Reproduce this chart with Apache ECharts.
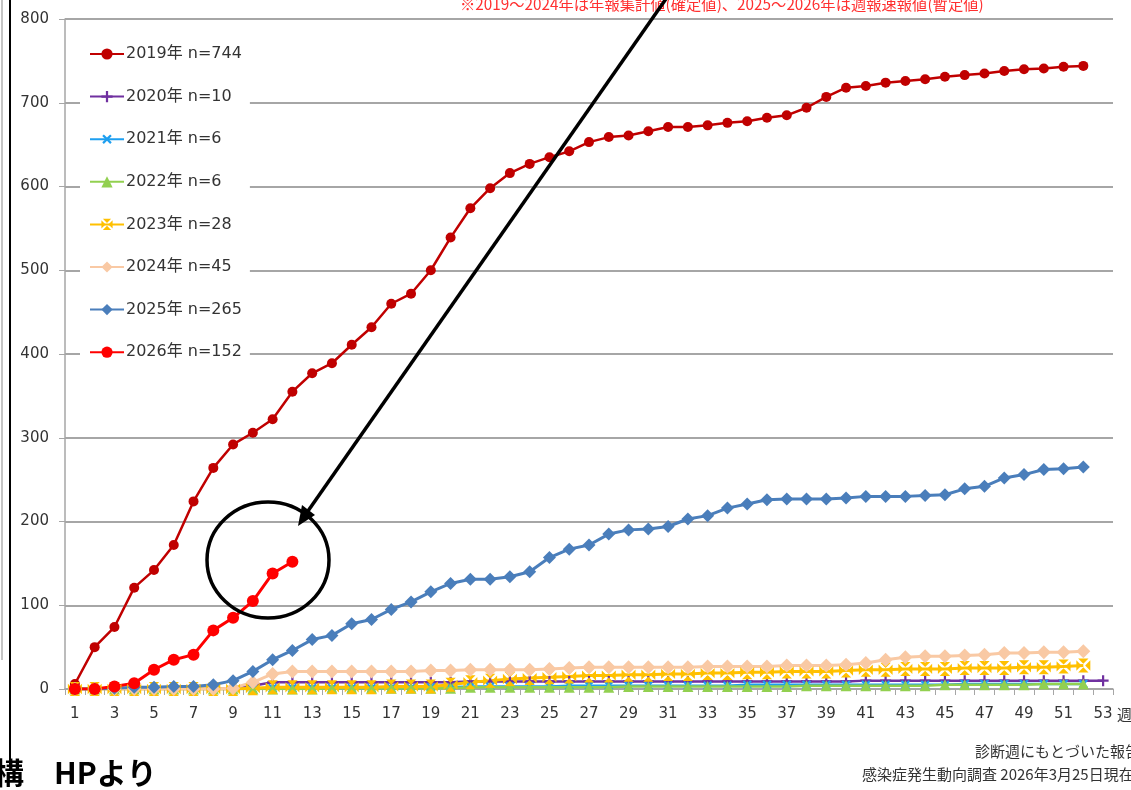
<!DOCTYPE html>
<html><head><meta charset="utf-8">
<script src="https://cdn.jsdelivr.net/npm/echarts@6/dist/echarts.min.js"></script>
<style>html,body{margin:0;padding:0;background:#fff;overflow:hidden}#c{width:1131px;height:790px}</style>
</head><body><div id="c"></div>
<script>
const weeks = Array.from({length:53},(_,i)=>String(i+1));
const names = ['2019年 n=744','2020年 n=10','2021年 n=6','2022年 n=6','2023年 n=28','2024年 n=45','2025年 n=265','2026年 n=152'];
const y2019 = [6,50,74,121,142,172,224,264,292,306,322,355,377,389,411,432,460,472,500,539,574,598,616,627,635,642,653,659,661,666,671,671,673,676,678,682,685,694,707,718,720,724,726,728,731,733,735,738,740,741,743,744];
const y2020 = [0,0,0,0,0,0,0,0,0,4,8,8,8,8,8,8,8,8,8,8,9,9,9,9,9,9,9,9,9,9,9,9,9,9,9,9,9,9,9,9,10,10,10,10,10,10,10,10,10,10,10,10,10];
const y2021 = [0,0,0,0,0,0,0,0,0,0,1,1,1,1,1,1,1,1,2,2,3,3,3,3,3,4,4,4,4,4,4,4,4,4,5,5,5,5,5,5,5,5,5,5,5,6,6,6,6,6,6,6];
const y2022 = [0,0,0,0,0,0,0,0,0,0,0,0,0,1,1,1,1,1,1,1,2,2,2,2,2,2,2,2,3,3,3,3,3,3,3,3,3,4,4,4,4,4,4,4,5,5,5,5,5,6,6,6];
const y2023 = [0,0,0,0,0,0,0,0,0,1,2,2,2,2,2,2,3,3,3,5,8,10,12,13,14,15,16,16,17,17,18,18,19,19,20,20,21,21,21,22,23,23,24,24,24,25,25,25,26,26,27,28];
const y2024 = [0,0,0,0,0,0,0,0,1,8,18,21,21,21,21,21,21,21,22,22,23,23,23,23,24,25,26,26,26,26,26,26,27,27,27,27,28,28,28,29,31,35,38,39,39,40,41,43,43,44,44,45];
const y2025 = [0,0,1,2,2,3,3,5,10,21,35,46,59,64,78,83,95,104,116,126,131,131,134,140,157,167,172,185,190,191,194,203,207,216,221,226,227,227,227,228,230,230,230,231,232,239,242,252,256,262,263,265];
const y2026 = [0,0,3,7,23,35,41,70,85,105,138,152];
const yTicks = [0,100,200,300,400,500,600,700,800];

const FONT = "'DejaVu Sans','Noto Sans CJK JP',sans-serif";
const JP = "'Noto Sans CJK JP','DejaVu Sans',sans-serif";
const PLUS = 'path://M4,0H6V4H10V6H6V10H4V6H0V4H4Z';
const BOXX = 'path://M1.3,0L8.7,0L5,3.7Z M10,1.3L10,8.7L6.3,5Z M8.7,10L1.3,10L5,6.3Z M0,8.7L0,1.3L3.7,5Z';

function ser(name, data, color, symbol, size, width, extra) {
  return Object.assign({
    name, type:'line', data, symbol, symbolSize:size, showSymbol:true, showAllSymbol:true,
    lineStyle:{color, width}, itemStyle:{color, borderWidth:0},
    emphasis:{disabled:true}
  }, extra||{});
}

const chart = echarts.init(document.getElementById('c'), null, {renderer:'canvas'});
chart.setOption({
  animation:false,
  textStyle:{fontFamily:FONT},
  grid:{left:65, right:18, top:19, bottom:101, containLabel:false},
  legend:{
    orient:'vertical', left:80, top:30,
    padding:[16,8,16,9], itemGap:26.6, itemWidth:34, itemHeight:14,
    backgroundColor:'#ffffff', z:10,
    textStyle:{fontFamily:FONT, fontSize:16, color:'#333333', padding:[0,0,0,-3]},
    data:names
  },
  xAxis:{
    type:'category', data:weeks, boundaryGap:true,
    axisLine:{lineStyle:{color:'#a6a6a6', width:1.5}},
    axisTick:{show:true, interval:0, length:6, lineStyle:{color:'#a6a6a6'}},
    axisLabel:{interval:1, margin:18, fontSize:15, color:'#333333', fontFamily:FONT},
    splitLine:{show:false}
  },
  yAxis:{
    type:'value', min:0, max:800, interval:100,
    axisLine:{show:true, lineStyle:{color:'#a6a6a6', width:1.5}},
    axisTick:{show:true, length:6, lineStyle:{color:'#a6a6a6'}},
    axisLabel:{margin:16, fontSize:15, color:'#333333', fontFamily:FONT,
      formatter:v=>yTicks.includes(v)?String(v):''},
    splitLine:{show:true, lineStyle:{color:'#a6a6a6', width:2}}
  },
  series:[
    ser(names[0], y2019, '#c00000', 'circle', 10, 2.5),
    ser(names[1], y2020, '#7030a0', PLUS, 11, 2.5),
    ser(names[2], y2021, '#1e9ff0', PLUS, 11, 2.5, {symbolRotate:45}),
    ser(names[3], y2022, '#92d050', 'triangle', 11, 2.5),
    ser(names[4], y2023, '#ffc000', BOXX, 14, 3),
    ser(names[5], y2024, '#f9c9a4', 'diamond', 14, 3),
    ser(names[6], y2025, '#4a7ebb', 'diamond', 13, 3),
    ser(names[7], y2026, '#ff0000', 'circle', 12, 3)
  ],
  graphic:[
    {type:'line', z:100, shape:{x1:2,y1:0,x2:2,y2:660}, style:{stroke:'#b0b0b0', lineWidth:1.5}},
    {type:'line', z:100, shape:{x1:10,y1:0,x2:10,y2:765}, style:{stroke:'#000', lineWidth:2}},
    {type:'text', z:100, left:460, top:-3, style:{text:'※2019～2024年は年報集計値(確定値)、2025～2026年は週報速報値(暫定値)', fill:'#ff3030', font:"15.3px "+JP}},
    {type:'ellipse', z:100, shape:{cx:268, cy:560, rx:61, ry:58}, style:{fill:null, stroke:'#000', lineWidth:3.5}},
    {type:'line', z:100, shape:{x1:668, y1:-4, x2:308, y2:511}, style:{stroke:'#000', lineWidth:3.5}},
    {type:'polygon', z:100, shape:{points:[[298,526],[315,515],[302,505]]}, style:{fill:'#000'}},
    {type:'text', z:100, left:1117, top:707, style:{text:'週', fill:'#333', font:"15px "+JP}},
    {type:'text', z:100, left:975, top:744, style:{text:'診断週にもとづいた報告数', fill:'#333', font:"15px "+JP}},
    {type:'text', z:100, left:862, top:767, style:{text:'感染症発生動向調査 2026年3月25日現在', fill:'#333', font:"15px "+JP}},
    {type:'text', z:100, left:-6, top:758, style:{text:'構　HPより', fill:'#000', font:"bold 30px "+JP}}
  ]
});
</script></body></html>
